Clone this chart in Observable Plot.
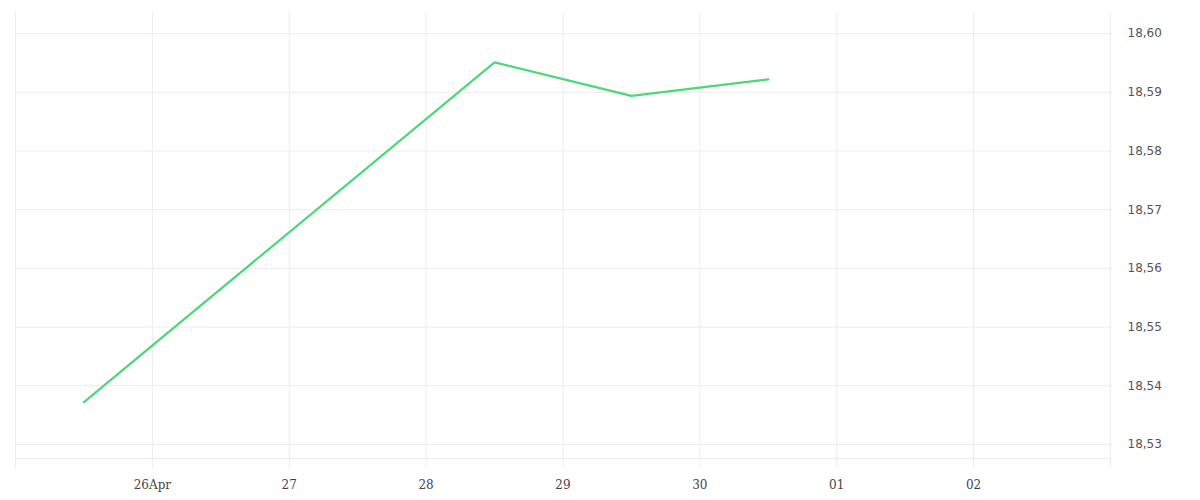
<!DOCTYPE html>
<html>
<head>
<meta charset="utf-8">
<script src="https://cdn.jsdelivr.net/npm/d3@7"></script>
<script src="https://cdn.jsdelivr.net/npm/@observablehq/plot@0.6"></script>
<style>
  html, body { margin: 0; padding: 0; background: #fff; }
  #chart { width: 1200px; height: 500px; }
</style>
</head>
<body>
<div id="chart"></div>
<script>
// Data
const dates = ["2025-04-25T12:00", "2025-04-28T12:00", "2025-04-29T12:00", "2025-04-30T12:00"];
const values = [18.5372, 18.5951, 18.5894, 18.5922];
const xTickDates = ["2025-04-25", "2025-04-26", "2025-04-27", "2025-04-28", "2025-04-29", "2025-04-30", "2025-05-01", "2025-05-02", "2025-05-03"];
const xTickLabels = ["", "26Apr", "27", "28", "29", "30", "01", "02", ""];
const yTicks = [18.53, 18.54, 18.55, 18.56, 18.57, 18.58, 18.59, 18.60];
const xDomain = ["2025-04-25", "2025-05-03"];
const yDomain = [18.5276, 18.6036];

const parse = s => new Date(s);
const data = dates.map((d, i) => ({date: parse(d), value: values[i]}));
const xTicks = xTickDates.map(parse);
const labelOf = new Map(xTicks.map((d, i) => [+d, xTickLabels[i]]));
const fmtY = v => d3.format(".2f")(v).replace(".", ",");

const grid = "#ececec";

const chart = Plot.plot({
  width: 1200,
  height: 500,
  marginLeft: 15,
  marginRight: 90,
  marginTop: 12,
  marginBottom: 42,
  style: {background: "#fff", fontSize: "12px"},
  x: {type: "utc", domain: xDomain.map(parse), label: null},
  y: {domain: yDomain, label: null},
  marks: [
    Plot.gridY(yTicks, {stroke: grid, strokeOpacity: 1}),
    Plot.gridX(xTicks, {stroke: grid, strokeOpacity: 1}),
    Plot.ruleY([yDomain[0]], {stroke: grid, strokeOpacity: 1}),
    Plot.axisX(xTicks, {
      tickSize: 10, tickPadding: 12, stroke: grid, color: "#444", label: null,
      tickFormat: d => labelOf.get(+d) ?? "",
      fontFamily: "DejaVu Serif", fontSize: 12
    }),
    Plot.axisY(yTicks, {
      anchor: "right", tickSize: 0, tickPadding: 17, color: "#555", label: null,
      tickFormat: fmtY, fontFamily: "DejaVu Sans", fontSize: 12
    }),
    Plot.line(data, {x: "date", y: "value", stroke: "#4cd779", strokeWidth: 2.2})
  ]
});
document.getElementById("chart").append(chart);
</script>
</body>
</html>
